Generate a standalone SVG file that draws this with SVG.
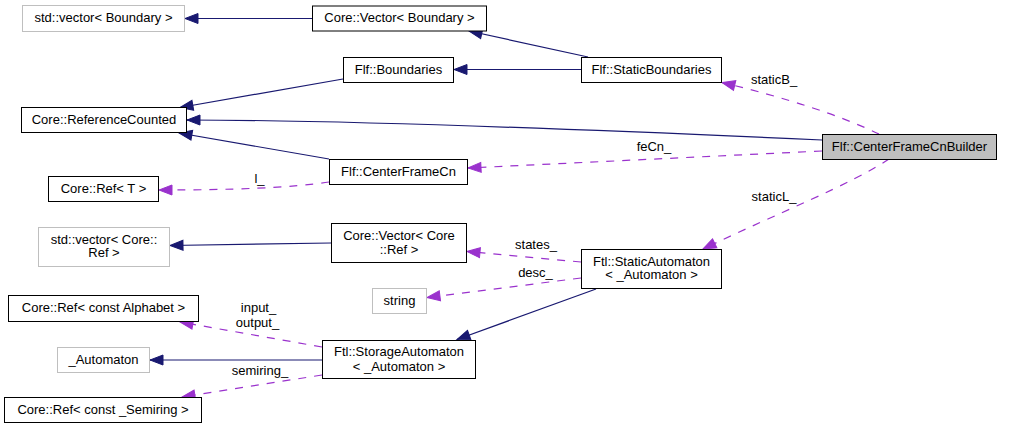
<svg xmlns="http://www.w3.org/2000/svg" width="1012" height="429" viewBox="0 0 1012 429">
<style>
text{font-family:"Liberation Sans",Arial,sans-serif;font-size:13px;fill:#000;text-anchor:middle}
.n{fill:#fff;stroke:#000;stroke-width:1}
.g{fill:#fff;stroke:#bfbfbf;stroke-width:1}
.c{fill:#bfbfbf;stroke:#000;stroke-width:1}
.inh{fill:none;stroke:#191970;stroke-width:1.2;marker-end:url(#ab)}
.use{fill:none;stroke:#9a32cd;stroke-width:1.2;stroke-dasharray:8,8;marker-end:url(#ap)}
.ah{stroke-dasharray:none;stroke-width:1}
</style>
<defs>
<marker id="ab" markerUnits="userSpaceOnUse" markerWidth="15" markerHeight="12" refX="13" refY="5.5" orient="auto" overflow="visible"><path class="ah" d="M0,0.5 L13,5.5 L0,10.5 z" fill="#191970" stroke="#191970"/></marker>
<marker id="ap" markerUnits="userSpaceOnUse" markerWidth="15" markerHeight="12" refX="13" refY="5.5" orient="auto" overflow="visible"><path class="ah" d="M0,0.5 L13,5.5 L0,10.5 z" fill="#9a32cd" stroke="#9a32cd"/></marker>
</defs>
<rect width="1012" height="429" fill="#fff"/>
<g id="edges">
<path class="inh" d="M312,18.5 L185,18.5"/>
<path class="inh" d="M588,57 L469,31"/>
<path class="inh" d="M581,69.5 L454,69.5"/>
<path class="inh" d="M343,79 L180,107.5"/>
<path class="inh" d="M822,140 C600,130 350,120 187,120"/>
<path class="inh" d="M329,159 L179,133"/>
<path class="inh" d="M331,243 L170,245.5"/>
<path class="inh" d="M596,289 L457,339.5"/>
<path class="inh" d="M322,360 L150,360"/>
<path class="use" d="M879,134 Q820,106 722,82.5"/>
<path class="use" d="M822,151 L468,168"/>
<path class="use" d="M889,159 C850,185 780,212 703,249"/>
<path class="use" d="M329,182 C290,188 230,190 159,190"/>
<path class="use" d="M581,262 L467,251.5"/>
<path class="use" d="M581,278 L427,297.5"/>
<path class="use" d="M322,347 L180,322"/>
<path class="use" d="M322,375 L182,397"/>
<text x="774" y="84">staticB_</text>
<text x="654" y="151">feCn_</text>
<text x="774" y="200.5">staticL_</text>
<text x="259.5" y="183">l_</text>
<text x="536" y="248.5">states_</text>
<text x="535.5" y="276.5">desc_</text>
<text x="258.5" y="311.5">input_</text>
<text x="257.5" y="326.5">output_</text>
<text x="260" y="375">semiring_</text>
</g>
<g id="n1"><rect class="g" x="22.5" y="5.5" width="162" height="26"/><text x="103.5" y="22">std::vector&lt; Boundary &gt;</text></g>
<g id="n2"><rect class="n" x="312.5" y="6" width="174" height="25"/><text x="399.5" y="22">Core::Vector&lt; Boundary &gt;</text></g>
<g id="n3"><rect class="n" x="343.5" y="57.5" width="110" height="25"/><text x="398.5" y="73.5">Flf::Boundaries</text></g>
<g id="n4"><rect class="n" x="21.5" y="107.5" width="165" height="25"/><text x="104" y="123.5">Core::ReferenceCounted</text></g>
<g id="n5"><rect class="n" x="581.5" y="57.5" width="140" height="25"/><text x="651.5" y="73.5">Flf::StaticBoundaries</text></g>
<g id="n6"><rect class="c" x="822.5" y="134.5" width="174" height="25"/><text x="909.5" y="150.5">Flf::CenterFrameCnBuilder</text></g>
<g id="n7"><rect class="n" x="329.5" y="159.5" width="138" height="25"/><text x="398.5" y="175.5">Flf::CenterFrameCn</text></g>
<g id="n8"><rect class="n" x="48.5" y="176.5" width="110" height="25"/><text x="103.5" y="192.5">Core::Ref&lt; T &gt;</text></g>
<g id="n9"><rect class="g" x="38.5" y="227.5" width="131" height="39"/><text x="104" y="243.5">std::vector&lt; Core::</text><text x="104" y="257">Ref &gt;</text></g>
<g id="n10"><rect class="n" x="331.5" y="223.5" width="135" height="39"/><text x="399" y="240">Core::Vector&lt; Core</text><text x="399" y="253.5">::Ref &gt;</text></g>
<g id="n11"><rect class="n" x="581.5" y="249.5" width="140" height="39"/><text x="651.5" y="265.5">Ftl::StaticAutomaton</text><text x="651.5" y="279">&lt; _Automaton &gt;</text></g>
<g id="n12"><rect class="g" x="372.5" y="288.5" width="54" height="25"/><text x="399.5" y="304.5">string</text></g>
<g id="n13"><rect class="n" x="8.5" y="295.5" width="190" height="26"/><text x="103.5" y="311.5">Core::Ref&lt; const Alphabet &gt;</text></g>
<g id="n14"><rect class="g" x="57.5" y="347.5" width="92" height="25"/><text x="103.5" y="363.5">_Automaton</text></g>
<g id="n15"><rect class="n" x="322.5" y="340.5" width="153" height="38"/><text x="399" y="355.5">Ftl::StorageAutomaton</text><text x="399" y="370.5">&lt; _Automaton &gt;</text></g>
<g id="n16"><rect class="n" x="4.5" y="397.5" width="197" height="25"/><text x="103" y="413.5">Core::Ref&lt; const _Semiring &gt;</text></g>
</svg>
